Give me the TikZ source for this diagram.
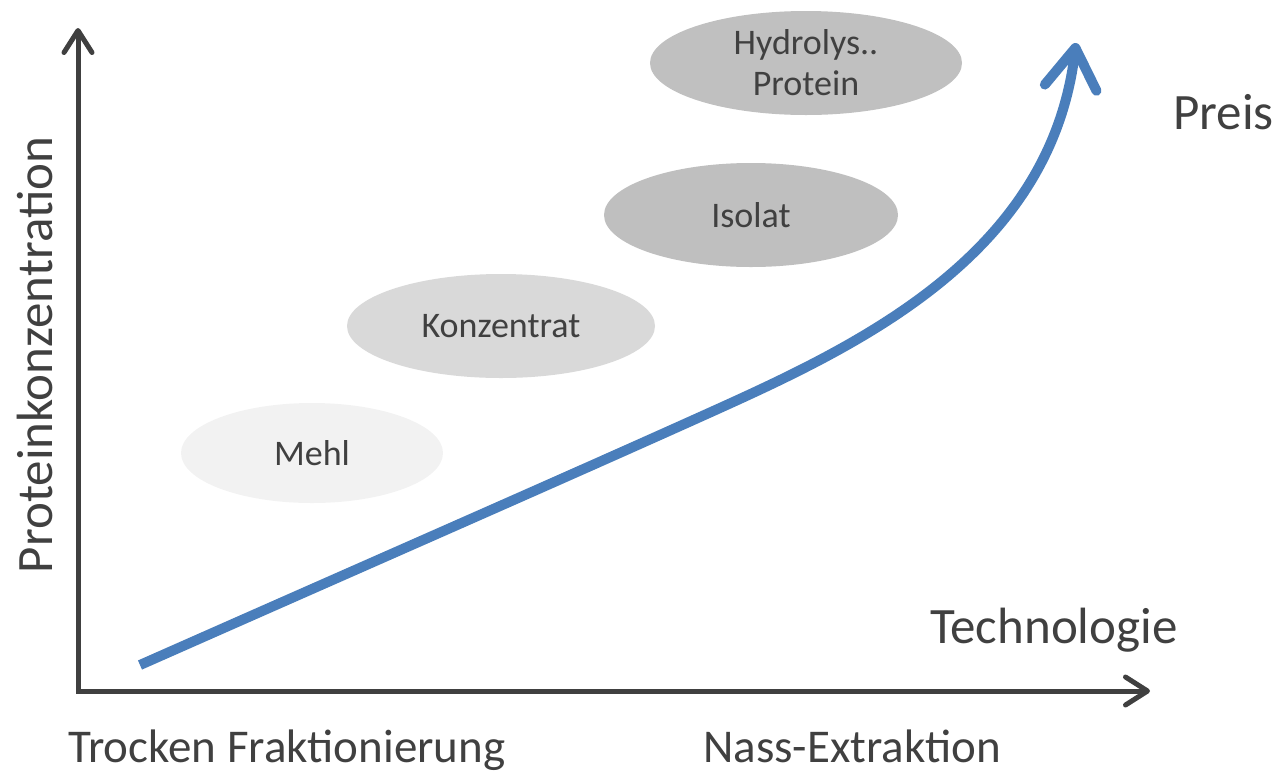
\documentclass[tikz,border=0pt]{standalone}
\usepackage{fontspec}
\setmainfont{Carlito}
\usetikzlibrary{shapes, arrows.meta, positioning}
\definecolor{cAxis}{RGB}{64, 64, 64}
\definecolor{cText}{RGB}{64, 64, 64}
\definecolor{cCurve}{RGB}{74, 126, 187}
\definecolor{cMehl}{RGB}{242, 242, 242}
\definecolor{cKonz}{RGB}{217, 217, 217}
\definecolor{cIso}{RGB}{191, 191, 191}
\definecolor{cHydro}{RGB}{192, 192, 192}
\tikzset{
    % --- Ellipsen (Produktstufen) ---
    stageBlob/.style={
        ellipse, inner sep=0pt, align=center,
        text=cText, font=\fontsize{36}{41}\selectfont
    },
    % --- Achsen ---
    axisLine/.style={
        draw=cAxis, line width=5pt, line cap=rect,
        -{Straight Barb[length=22pt, width=28pt, round]}
    },
    % --- Preiskurve ---
    priceCurve/.style={
        draw=cCurve, line width=10pt,
        -{Straight Barb[length=40pt, width=52pt, round]}
    },
    % --- Beschriftungen ---
    axisLabel/.style={inner sep=0pt, text=cText, font=\fontsize{51}{60}\selectfont},
    routeLabel/.style={inner sep=0pt, text=cText, font=\fontsize{47}{56}\selectfont}
}
\begin{document}
\begin{tikzpicture}[x=1pt, y=-1pt]
	\useasboundingbox (0,0) rectangle (1283,772);

	% =========================================================
	% 1. Achsen
	% =========================================================
	\coordinate (origin) at (78,691);
	\coordinate (yTop) at (78,28);
	\coordinate (xEnd) at (1150,691);
	\draw [axisLine] (origin) -- (yTop);
	\draw [axisLine] (origin) -- (xEnd);

	% =========================================================
	% 2. Produktstufen
	% =========================================================
	\node [stageBlob, fill=cMehl, minimum width=262pt, minimum height=100pt] (mehl) at (312,453) {Mehl};
	\node [stageBlob, fill=cKonz, minimum width=308pt, minimum height=104pt] (konz) at (501,326) {Konzentrat};
	\node [stageBlob, fill=cIso, minimum width=294pt, minimum height=104pt] (isolat) at (751,215) {Isolat};
	\node [stageBlob, fill=cHydro, minimum width=312pt, minimum height=104pt] (hydro) at (806,63) {Hydrolys..\\Protein};

	% =========================================================
	% 3. Preiskurve
	% =========================================================
	\coordinate (cStart) at (140,665);
	\coordinate (cBend) at (700,417);
	\coordinate (cTip) at (1076,43);
	\draw [priceCurve] (cStart) .. controls (400,550) and (560,480) .. (cBend)
		.. controls (850,349.5) and (1050,260) .. (cTip);

	% =========================================================
	% 4. Beschriftungen
	% =========================================================
	\node [axisLabel, rotate=90, anchor=base] (yLabel) at (52,355) {Proteinkonzentration};
	\node [axisLabel, anchor=base west] (preis) at (1173,129) {Preis};
	\node [axisLabel, anchor=base west] (techn) at (930,643) {Technologie};
	\node [routeLabel, anchor=base west] (trocken) at (68,762) {Trocken Fraktionierung};
	\node [routeLabel, anchor=base west] (nass) at (703,762) {Nass-Extraktion};

\end{tikzpicture}
\end{document}
